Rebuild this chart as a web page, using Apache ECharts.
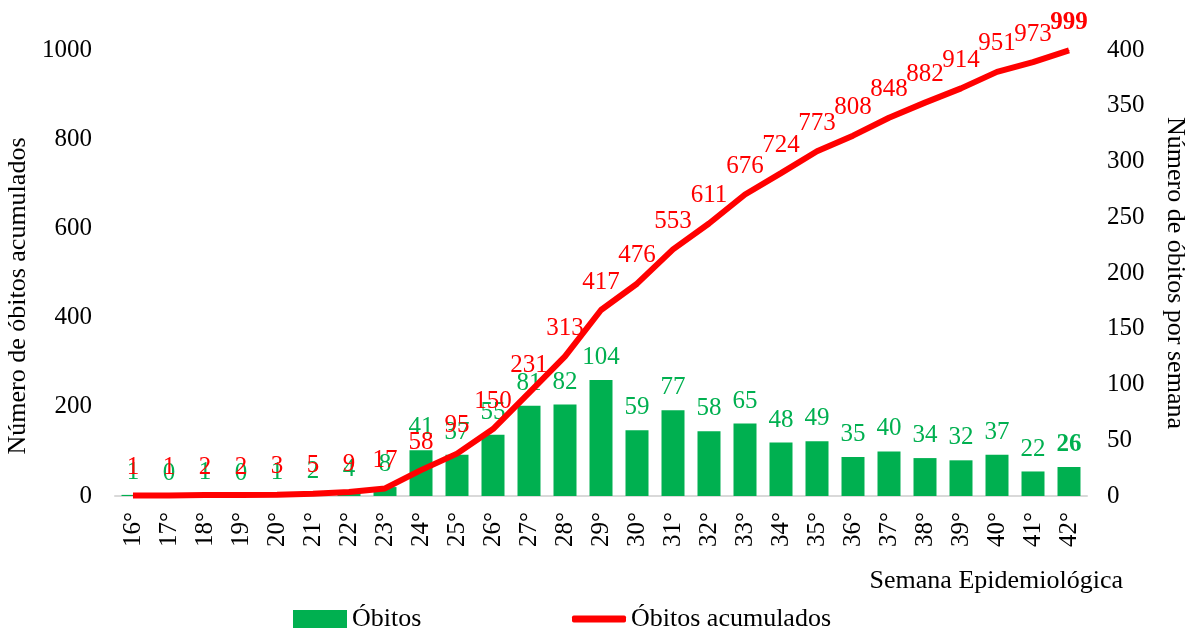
<!DOCTYPE html>
<html>
<head>
<meta charset="utf-8">
<script src="https://cdn.jsdelivr.net/npm/echarts@6/dist/echarts.min.js"></script>
<style>
html,body{margin:0;padding:0;background:#fff;}
#chart{width:1189px;height:631px;}
</style>
</head>
<body>
<div id="chart"></div>
<script>
const categories = ['16°','17°','18°','19°','20°','21°','22°','23°','24°','25°','26°','27°','28°','29°','30°','31°','32°','33°','34°','35°','36°','37°','38°','39°','40°','41°','42°'];
const obitos = [1,0,1,0,1,2,4,8,41,37,55,81,82,104,59,77,58,65,48,49,35,40,34,32,37,22,26];
const obitosAcumulados = [1,1,2,2,3,5,9,17,58,95,150,231,313,417,476,553,611,676,724,773,808,848,882,914,951,973,999];
const leftTicks = {min:0, max:1000, interval:200};
const rightTicks = {min:0, max:400, interval:50};

const FONT = '"Liberation Serif", "Times New Roman", serif';
const GREEN = '#00b050';
const RED = '#ff0000';

function boldLast(arr){
  return arr.map((v,i)=> i===arr.length-1 ? {value:v, label:{fontWeight:'bold'}} : v);
}

const chart = echarts.init(document.getElementById('chart'), null, {renderer:'canvas'});
chart.setOption({
  animation:false,
  textStyle:{fontFamily:FONT},
  grid:{left:115, right:102, top:50, bottom:135, containLabel:false, outerBoundsMode:'none'},
  legend:[
    {
      left:293, top:606, padding:0,
      itemWidth:54, itemHeight:18, itemGap:10,
      textStyle:{fontFamily:FONT, fontSize:26, color:'#000'},
      data:[{name:'Óbitos', icon:'rect'}]
    },
    {
      left:572, top:606, padding:0,
      itemWidth:54, itemHeight:7, itemGap:10,
      textStyle:{fontFamily:FONT, fontSize:26, color:'#000'},
      data:[{name:'Óbitos acumulados', icon:'roundRect'}]
    }
  ],
  xAxis:{
    type:'category',
    data:categories,
    name:'Semana Epidemiológica',
    nameLocation:'end',
    nameGap:36,
    nameTextStyle:{fontFamily:FONT, fontSize:26, color:'#000', align:'right', verticalAlign:'top', padding:[72,0,0,0]},
    axisLine:{show:true, lineStyle:{color:'#d9d9d9', width:2}},
    axisTick:{show:false},
    axisLabel:{rotate:90, margin:16, fontFamily:FONT, fontSize:25, color:'#000'}
  },
  yAxis:[
    {
      type:'value', min:leftTicks.min, max:leftTicks.max, interval:leftTicks.interval,
      name:'Número de óbitos acumulados',
      nameLocation:'middle', nameRotate:90, nameGap:74,
      nameTextStyle:{fontFamily:FONT, fontSize:26, color:'#000', padding:[0,46,0,0]},
      axisLine:{show:false}, axisTick:{show:false}, splitLine:{show:false},
      axisLabel:{margin:23, fontFamily:FONT, fontSize:25, color:'#000', formatter:(v)=>String(v)}
    },
    {
      type:'value', min:rightTicks.min, max:rightTicks.max, interval:rightTicks.interval,
      name:'Número de óbitos por semana',
      nameLocation:'middle', nameRotate:-90, nameGap:75,
      nameTextStyle:{fontFamily:FONT, fontSize:26, color:'#000'},
      axisLine:{show:false}, axisTick:{show:false}, splitLine:{show:false},
      axisLabel:{margin:20, fontFamily:FONT, fontSize:25, color:'#000', formatter:(v)=>String(v)}
    }
  ],
  series:[
    {
      name:'Óbitos',
      type:'bar',
      yAxisIndex:1,
      data:boldLast(obitos),
      barWidth:23,
      itemStyle:{color:GREEN},
      label:{show:true, position:'top', distance:10, color:GREEN, fontFamily:FONT, fontSize:25},
      z:2
    },
    {
      name:'Óbitos acumulados',
      type:'line',
      yAxisIndex:0,
      data:boldLast(obitosAcumulados),
      symbol:'circle',
      symbolSize:1,
      showSymbol:true,
      lineStyle:{color:RED, width:6},
      itemStyle:{color:RED},
      label:{show:true, position:'top', distance:15, color:RED, fontFamily:FONT, fontSize:25},
      labelLayout:{hideOverlap:false},
      z:3
    }
  ]
});
</script>
</body>
</html>
